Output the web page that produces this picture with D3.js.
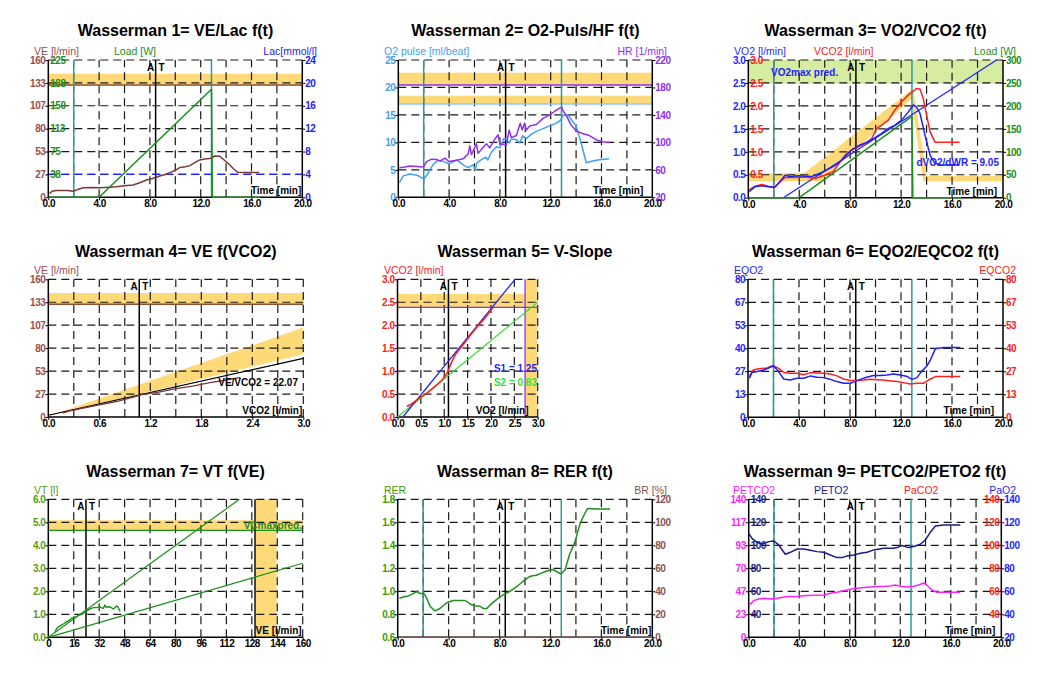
<!DOCTYPE html>
<html><head><meta charset="utf-8">
<script src="https://cdn.jsdelivr.net/npm/d3@7"></script>
<style>body{margin:0;background:#fff;} svg{display:block;font-family:"Liberation Sans",Arial,sans-serif;}</style>
</head><body><script>
// ---------------- DATA ----------------
const timeTicks = [0,4,8,12,16,20];
const atTime = 8.45, startLine = 2.0, endLine = 12.85;

// Panel 1
const veT = [0.1,0.3,0.6,1.0,1.5,1.97,2.3,2.75,3.5,4.06,4.8,5.37,6.0,6.68,7.2,7.73,8.2,8.78,9.2,9.57,10.0,10.35,10.8,11.14,11.5,11.92,12.3,12.7,12.9,13.1,13.5,13.8,14.3,14.6,14.9,15.6,16.6];
const veV = [4.3,7,8,8,7.8,7,9,11.2,11.5,11.2,11.8,12.4,13.5,14.4,17,20.2,22,24.9,26.5,28.7,31.5,34.6,35.5,36.9,40,43.6,44.5,45.1,46,48.2,47.9,44,37.7,33,29.2,29,29];
const loadT = [0,4.0,12.85,12.92,16.7];
const loadW = [0,0,177,0,0];
const veMaxBand = [131,144];
const lacLine = 4;

// Panel 2
const hrT = [0.08,0.5,0.92,1.5,1.84,2.0,2.23,2.62,3.0,3.3,3.67,4.0,4.6,5.1,5.5,5.63,5.76,6.15,6.28,6.55,6.94,7.2,7.6,7.86,7.99,8.38,8.5,8.73,8.9,9.3,9.6,9.76,9.95,10.08,10.35,10.87,11.4,11.92,12.3,12.7,12.86,12.97,13.2,13.6,14.0,14.5,15.05,15.6,16.1,16.6];
const hrV = [63.2,64,65.5,65,64,65,72,75.5,75,73,77,72,74,76,83,95,82,98,84,90,98,92,104.7,111,98,97,96,118,107,110,128,118,128,118,124,126,135,140,145,150,151.4,146,140,125.5,116.8,113,110,103.6,101,100];
const o2pT = [0.08,0.4,0.92,1.5,2.0,2.33,2.72,3.1,3.6,4.0,4.6,5.2,5.5,5.9,6.06,6.2,6.64,6.9,7.05,7.35,7.74,8.0,8.3,8.5,8.73,8.9,9.3,9.56,9.8,10.1,10.48,10.87,11.4,11.92,12.45,12.76,13.0,13.4,13.6,14.0,14.4,14.8,15.3,15.7,16.6];
const o2pV = [2.67,3.9,4.25,4.0,3.34,4.3,5.9,6.7,6.5,6.1,6.8,5.77,5.4,5.9,5.0,6.3,7.0,7.3,6.8,8.3,9.2,9.0,10.7,10.6,9.9,10.6,10.5,9.9,11.2,10.7,11.5,12,12.5,13.0,13.5,14.0,15.0,14.9,14.2,13,9.85,6.3,6.6,6.8,7.0];
const hrMaxBand = [183.5,201.5];
const o2pMaxBand = [17.0,18.5];

// Panel 3
const vco2T = [0.07,0.53,1.05,1.57,2.04,2.36,2.88,3.67,4.45,5.24,6.0,6.68,7.2,7.6,8.1,8.64,9.16,9.69,10.08,10.47,11.0,11.52,12.04,12.57,12.96,13.2,13.48,13.74,14.0,14.27,14.66,15.18,16.6];
const vco2V = [0.17,0.25,0.29,0.25,0.22,0.31,0.44,0.44,0.45,0.42,0.49,0.57,0.78,0.93,1.04,1.11,1.18,1.29,1.51,1.58,1.69,1.91,2.09,2.24,2.32,2.38,2.37,2.16,1.80,1.44,1.21,1.21,1.21];
const vo2T = [0.07,0.53,1.05,1.57,2.04,2.49,2.88,3.27,3.93,4.97,5.76,6.4,7.07,7.6,8.1,8.77,9.43,9.95,10.47,11.0,11.52,12.04,12.57,12.96,13.2,13.48,13.87,14.27,14.66,15.18,16.5];
const vo2V = [0.13,0.24,0.26,0.24,0.22,0.35,0.49,0.46,0.48,0.46,0.55,0.64,0.75,0.89,1.04,1.15,1.22,1.31,1.40,1.51,1.58,1.69,1.87,2.02,1.98,1.84,1.37,0.93,0.75,0.71,0.71];
const vo2PredT = [2.75,19.5];
const vo2PredV = [0,3.0];
const vo2BandT = [0,4.4,12.95,14.0,20,20,13.75,12.8,5.7,0];
const vo2BandV = [0.53,0.54,2.38,0.48,0.48,0.36,0.36,2.15,0.36,0.36];
const vo2MaxBand = [2.48,3.0];

// Panel 4
const p4VCO2 = [0.17,0.25,0.3,0.44,0.5,0.6,0.8,1.0,1.1,1.3,1.5,1.7,1.9,2.1,2.26];
const p4VE = [4.5,7,8,11,12,14,18,23,26,29,33,36,40,43,46];
const p4RegX = [0,3];
const p4RegY = [2,68.2];
const p4WedgeX = [0,3,3,0];
const p4WedgeY = [1,104,73,1];
const p4AT = 1.07;

// Panel 5
const vsVO2 = [0.2,0.31,0.45,0.63,0.8,0.95,1.05,1.1,1.15,1.25,1.4,1.55,1.7,1.85,1.95,2.03];
const vsVCO2 = [0.23,0.29,0.4,0.52,0.66,0.8,0.93,1.05,1.18,1.38,1.57,1.77,1.96,2.13,2.26,2.37];
const s1X = [0.115,2.515], s1Y = [0,3];
const s2X = [0,3], s2Y = [0,2.5];
const vcoMaxBand = [2.39,2.68];
const voMaxBand = [2.73,3.0];
const p5AT = 1.09;

// Panel 6
const eqo2T = [0.1,0.31,0.71,1.23,1.75,2.0,2.4,2.8,3.3,3.84,4.37,4.9,5.4,5.93,6.45,6.98,7.5,8.0,8.4,8.8,9.3,9.86,10.4,10.9,11.4,11.95,12.5,12.86,13.25,13.6,14.0,14.3,14.7,15.35,16.65];
const eqo2V = [22.6,25.9,26.5,27.4,29,29.8,26.5,22.2,21.6,22.6,22.6,24.0,23.2,23,22,20.7,19.7,19.7,20.7,22,23.2,24.2,24.2,24.5,25.1,24.5,23.6,22,23,26.5,29.4,33.2,39.8,40.4,40.4];
const eqco2T = [0.1,0.4,0.84,1.5,1.96,2.4,2.8,3.3,3.84,4.37,4.9,5.4,5.93,6.45,6.98,7.5,8.0,8.55,9.07,9.6,10.1,10.6,11.2,11.7,12.2,12.7,13.25,13.75,14.15,14.7,15.35,16.65];
const eqco2V = [23.6,27.4,28.2,28.6,30.1,28.4,26,25.5,25.5,24.7,25.9,25.7,25.5,25.1,24,22.2,21.3,21.3,21.6,22,21.8,21.6,21.1,20.7,20.1,19.3,19.7,19.7,21.6,23.6,23.6,23.6];

// Panel 7
const vtVE = [4.2,5.5,6.3,7.5,8.4,10,11.5,13,14.7,16,17.8,19.5,21,22.5,23.7,25,26.2,27.2,28.3,30.4,32.5,33.5,34.6,35.6,36.5,37.5,38.8,40.9,42,43,44,45.1];
const vtV = [0.25,0.4,0.46,0.5,0.54,0.6,0.68,0.72,0.83,0.85,0.9,0.97,1.0,1.07,1.12,1.18,1.23,1.26,1.29,1.29,1.33,1.28,1.26,1.4,1.3,1.32,1.33,1.23,1.3,1.36,1.3,1.12];
const vtLine1X = [0,120.2], vtLine1Y = [0,6.0];
const vtLine2X = [0,160], vtLine2Y = [0,3.22];
const vcMaxBand = [4.65,5.09];
const veMaxBandX = [130,143.6];
const p7AT = 23.7;

// Panel 8
const rerT = [0.13,0.45,0.84,1.23,1.49,1.75,2.07,2.28,2.54,2.93,3.32,3.85,4.37,4.9,5.29,5.68,6.07,6.47,6.73,7.0,7.25,7.78,8.3,8.82,9.35,9.87,10.4,10.9,11.44,11.96,12.2,12.5,12.83,13.14,13.5,13.93,14.3,14.58,14.9,15.6,16.68];
const rerV = [0.94,0.95,0.96,0.98,1.0,0.98,0.98,0.94,0.87,0.83,0.85,0.90,0.92,0.92,0.92,0.89,0.875,0.87,0.85,0.85,0.88,0.93,0.97,1.0,1.04,1.09,1.13,1.14,1.165,1.185,1.19,1.17,1.15,1.185,1.32,1.43,1.58,1.65,1.72,1.715,1.715];
const brT = [0,20], brV = [0,0];

// Panel 9
const peto2T = [0,0.26,0.66,1.06,1.58,1.98,2.37,2.9,3.3,3.83,4.35,4.88,5.4,5.94,6.46,6.99,7.39,7.78,8.31,8.84,9.37,9.9,10.7,11.48,11.74,12.14,12.66,13.06,13.59,13.98,14.38,14.78,15.44,16.75];
const peto2V = [110.4,106,102.6,100.9,103.2,103.8,100.3,92.2,93.9,96.8,96.8,95.7,94.5,93.9,91.6,89.3,89.3,90.7,91.6,93,93.9,96,97.4,97.4,98,99.8,98,99,100.9,104.6,111.3,116.8,117.7,117.7];
const petco2T = [0.05,0.4,0.8,1.19,1.98,2.5,3.03,3.83,4.6,5.4,5.94,6.46,6.99,7.52,8.05,8.58,9.1,9.9,10.7,11.2,11.6,12.0,12.53,13.06,13.46,13.85,14.1,14.5,14.9,16.75];
const petco2V = [32.8,37.2,38.9,39.6,38.9,40.2,41.3,41.3,42.3,42.6,42.9,44.6,45.7,47.3,48.7,49.7,50.4,51.4,51.7,52.1,53.1,51.8,51.1,51.7,53.1,55.1,53.1,48,45.7,45.7];

// ---------------- RENDER ----------------
const TICK_FAMILY = '"Liberation Sans", Arial, sans-serif';
const TICK_LS = '-0.5px';

const C = {
  veLab:'#9a4c4c', veLine:'#7a3838', veMax:'#8a4f2c', teal:'#2a9a9a', yellow:'#fdd977', lgreen:'#d6eca0',
  green:'#1a8f1a', lac:'#2020ff', o2p:'#3fa0f5', hr:'#9030f0', vo2:'#1f1fff', vco2:'#ff2020',
  s2:'#33e033', olive:'#5a9c0e', rerLab:'#3c9c00', rerLine:'#1f8f1f', br:'#8a5050',
  mag:'#ff22ff', navy:'#1c1c85', grid:'#1a1a1a'
};

const svg = d3.select('body').append('svg').attr('width',1047).attr('height',679);
svg.append('rect').attr('width',1047).attr('height',679).attr('fill','#fff');

function mkPanel(L,R,T,B,xd,yd){
  const g = svg.append('g');
  return {g,L,R,T,B,xd,yd,x:d3.scaleLinear().domain(xd).range([L,R]),y:d3.scaleLinear().domain(yd).range([B,T])};
}
function hband(p,v,color,ys){ ys=ys||p.y; p.g.append('rect').attr('x',p.L).attr('width',p.R-p.L).attr('y',ys(v[1])).attr('height',ys(v[0])-ys(v[1])).attr('fill',color||C.yellow); }
function vband(p,v,color){ p.g.append('rect').attr('x',p.x(v[0])).attr('width',p.x(v[1])-p.x(v[0])).attr('y',p.T).attr('height',p.B-p.T).attr('fill',color||C.yellow); }
function poly(p,xs,ys,color){ p.g.append('path').attr('d',d3.line().x(d=>p.x(d[0])).y(d=>p.y(d[1]))(d3.zip(xs,ys))+'Z').attr('fill',color||C.yellow); }
function grid(p,nx,ny,rightAxis){
  const gg=p.g.append('g').attr('stroke',C.grid).attr('stroke-width',1.2).attr('stroke-dasharray','8,5');
  for(let i=1;i<=nx;i++){ if(i===nx && rightAxis) continue; const v=p.xd[0]+i*(p.xd[1]-p.xd[0])/nx; const X=p.x(v);
    gg.append('line').attr('x1',X).attr('x2',X).attr('y1',p.B).attr('y2',p.T); }
  for(let i=1;i<=ny;i++){ const v=p.yd[0]+i*(p.yd[1]-p.yd[0])/ny; const Y=p.y(v);
    gg.append('line').attr('x1',p.L).attr('x2',p.R).attr('y1',Y).attr('y2',Y); }
}
function axesLines(p,rightAxis){
  const a=p.g.append('g').attr('stroke','#000').attr('stroke-width',1.5);
  a.append('line').attr('x1',p.L).attr('x2',p.L).attr('y1',p.T).attr('y2',p.B);
  a.append('line').attr('x1',p.L).attr('x2',p.R).attr('y1',p.B).attr('y2',p.B);
  if(rightAxis) a.append('line').attr('x1',p.R).attr('x2',p.R).attr('y1',p.T).attr('y2',p.B);
}
function vline(p,v,color,w){ const X=p.x(v); p.g.append('line').attr('x1',X).attr('x2',X).attr('y1',p.T).attr('y2',p.B).attr('stroke',color).attr('stroke-width',w||1.5); }
function hline(p,v,color,ys,w,dash){ ys=ys||p.y; const Y=ys(v); const l=p.g.append('line').attr('x1',p.L).attr('x2',p.R).attr('y1',Y).attr('y2',Y).attr('stroke',color).attr('stroke-width',w||1.5); if(dash) l.attr('stroke-dasharray',dash); }
function series(p,xs,ys,color,yScale,w){ yScale=yScale||p.y;
  p.g.append('path').datum(d3.zip(xs,ys)).attr('d',d3.line().x(d=>p.x(d[0])).y(d=>yScale(d[1]))).attr('fill','none').attr('stroke',color).attr('stroke-width',w||1.5).attr('stroke-linejoin','round'); }
function styleAxis(g,color){
  g.select('.domain').remove();
  g.attr('font-family',TICK_FAMILY).attr('font-size',10).attr('font-weight','bold');
  g.selectAll('text').attr('fill',color).style('letter-spacing',TICK_LS);
  g.selectAll('line').attr('stroke','#000').attr('stroke-width',1);
}
function yAxis(p,side,scale,vals,fmt,color,pos,inside){
  const ax=(side==='left'?d3.axisLeft(scale):d3.axisRight(scale)).tickValues(vals).tickFormat(fmt).tickSizeOuter(0).tickSizeInner(inside?0:3).tickPadding(inside?2:0);
  const g=p.g.append('g').attr('transform','translate('+pos+',0)').call(ax);
  styleAxis(g,color);
}
function xAxis(p,vals,fmt){
  const ax=d3.axisBottom(p.x).tickValues(vals).tickFormat(fmt).tickSizeOuter(0).tickSizeInner(3).tickPadding(0);
  const g=p.g.append('g').attr('transform','translate(0,'+p.B+')').call(ax);
  styleAxis(g,'#000');
}
function text(x,y,s,o){ o=o||{};
  return svg.append('text').attr('x',x).attr('y',y).text(s).attr('fill',o.color||'#000').attr('font-size',o.size||10.5)
    .attr('font-weight',o.weight||'normal').attr('text-anchor',o.anchor||'start'); }
function title(cx,y,s){ text(cx,y,s,{size:16,weight:'bold',anchor:'middle'}); }
function atLabel(p,v){ const X=p.x(v); text(X-1.5,p.T+10.5,'A',{size:10,weight:'bold',anchor:'end'}); text(X+3,p.T+10.5,'T',{size:10,weight:'bold'}); }
function cornerLabel(p,s,xEnd){ text(xEnd||p.R-1,p.B-3,s,{size:10,weight:'bold',anchor:'end'}); }
const steps=(a,b,n)=>d3.range(n+1).map(i=>a+i*(b-a)/n);
const fRound=d=>String(Math.round(d)), f1=d3.format('.1f');

// ---------- Panel 1 ----------
{
  const p=mkPanel(48.3,302.3,60,197.3,[0,20],[0,160]);
  const load=d3.scaleLinear().domain([0,225]).range([p.B,p.T]);
  const lac=d3.scaleLinear().domain([0,24]).range([p.B,p.T]);
  hband(p,veMaxBand);
  grid(p,10,6,true);
  hline(p,veMaxBand[0],C.veMax);
  vline(p,startLine,C.teal); vline(p,endLine,C.teal); vline(p,atTime,'#000');
  axesLines(p,true);
  hline(p,lacLine,C.lac,lac,1.2,'8,5');
  series(p,veT,veV,C.veLine);
  series(p,loadT,loadW,C.green,load);
  yAxis(p,'left',p.y,steps(0,160,6),fRound,C.veLab,p.L);
  yAxis(p,'right',load,steps(0,225,6).slice(1),fRound,C.green,p.L,true);
  yAxis(p,'right',lac,steps(0,24,6),fRound,C.lac,p.R);
  xAxis(p,timeTicks,f1);
  atLabel(p,atTime); cornerLabel(p,'Time [min]');
  title(175.5,36,'Wasserman 1= VE/Lac f(t)');
  text(34,55,'VE [l/min]',{color:C.veLab}); text(114,55,'Load [W]',{color:C.green}); text(317,55,'Lac[mmol/l]',{color:C.lac,anchor:'end'});
}
// ---------- Panel 2 ----------
{
  const p=mkPanel(398.3,652.3,60,197.3,[0,20],[0,25]);
  const hr=d3.scaleLinear().domain([20,220]).range([p.B,p.T]);
  hband(p,hrMaxBand,C.yellow,hr); hband(p,o2pMaxBand);
  grid(p,10,5,true);
  hline(p,hrMaxBand[0],C.hr,hr); hline(p,o2pMaxBand[0],'#8cc4f5');
  vline(p,startLine,C.teal); vline(p,endLine,C.teal); vline(p,atTime,'#000');
  axesLines(p,true);
  series(p,o2pT,o2pV,C.o2p);
  series(p,hrT,hrV,C.hr,hr);
  yAxis(p,'left',p.y,steps(0,25,5),fRound,C.o2p,p.L);
  yAxis(p,'right',hr,steps(20,220,5),fRound,C.hr,p.R);
  xAxis(p,timeTicks,f1);
  atLabel(p,atTime); cornerLabel(p,'Time [min]',p.R-9);
  title(525.5,36,'Wasserman 2= O2-Puls/HF f(t)');
  text(384,55,'O2 pulse [ml/beat]',{color:C.o2p}); text(667,55,'HR [1/min]',{color:C.hr,anchor:'end'});
}
// ---------- Panel 3 ----------
{
  const p=mkPanel(748.3,1003,60,197.7,[0,20],[0,3]);
  const load=d3.scaleLinear().domain([0,300]).range([p.B,p.T]);
  hband(p,vo2MaxBand,C.lgreen);
  poly(p,vo2BandT,vo2BandV,C.yellow);
  grid(p,10,6,true);
  vline(p,startLine,C.teal); vline(p,endLine,C.teal); vline(p,atTime,'#000');
  axesLines(p,true);
  series(p,vo2PredT,vo2PredV,C.vo2,p.y,1.2);
  series(p,loadT,loadW,C.green,load);
  series(p,vco2T,vco2V,C.vco2);
  series(p,vo2T,vo2V,C.vo2);
  yAxis(p,'left',p.y,steps(0,3,6),f1,C.vo2,p.L);
  yAxis(p,'right',p.y,steps(0,3,6).slice(1),f1,C.vco2,p.L,true);
  yAxis(p,'right',load,steps(0,300,6),fRound,C.green,p.R);
  xAxis(p,timeTicks,f1);
  atLabel(p,atTime); cornerLabel(p,'Time [min]',p.R-6);
  text(771,76,'VO2max pred.',{color:C.vo2,size:10,weight:'bold'});
  text(999,166,'dVO2/dWR = 9.05',{color:C.vo2,size:10,weight:'bold',anchor:'end'});
  title(875.5,36,'Wasserman 3= VO2/VCO2 f(t)');
  text(734,55,'VO2 [l/min]',{color:C.vo2}); text(814,55,'VCO2 [l/min]',{color:C.vco2}); text(1016,55,'Load [W]',{color:C.green,anchor:'end'});
}
// ---------- Panel 4 ----------
{
  const p=mkPanel(48.3,303.3,279.3,417,[0,3],[0,160]);
  hband(p,veMaxBand);
  poly(p,p4WedgeX,p4WedgeY,C.yellow);
  grid(p,10,6,false);
  hline(p,veMaxBand[0],C.veMax);
  vline(p,p4AT,'#000');
  axesLines(p,false);
  series(p,p4RegX,p4RegY,'#000',p.y,1.2);
  series(p,p4VCO2,p4VE,C.veLine,p.y,1.3);
  yAxis(p,'left',p.y,steps(0,160,6),fRound,C.veLab,p.L);
  xAxis(p,[0,0.6,1.2,1.8,2.4,3.0],f1);
  atLabel(p,p4AT); cornerLabel(p,'VCO2 [l/min]');
  text(298,386,'VE/VCO2 = 22.07',{size:10,weight:'bold',anchor:'end'});
  title(175.8,257,'Wasserman 4= VE f(VCO2)');
  text(34,274,'VE [l/min]',{color:C.veLab});
}
// ---------- Panel 5 ----------
{
  const p=mkPanel(397.5,537.7,279.3,417,[0,3],[0,3]);
  hband(p,vcoMaxBand); vband(p,voMaxBand);
  grid(p,6,6,false);
  hline(p,vcoMaxBand[0],C.hr,p.y,1.3); vline(p,voMaxBand[0],C.hr,1.3);
  vline(p,p5AT,'#000');
  axesLines(p,false);
  series(p,s2X,s2Y,C.s2,p.y,1.2);
  series(p,s1X,s1Y,C.vo2,p.y,1.2);
  series(p,vsVO2,vsVCO2,C.vco2,p.y,1.6);
  yAxis(p,'left',p.y,steps(0,3,6),f1,C.vco2,p.L);
  xAxis(p,steps(0,3,6),f1);
  atLabel(p,p5AT); cornerLabel(p,'VO2 [l/min]',528.5);
  text(537,372,'S1 = 1.25',{color:C.vo2,size:10,weight:'bold',anchor:'end'});
  text(537,386,'S2 = 0.83',{color:C.s2,size:10,weight:'bold',anchor:'end'});
  title(525,257,'Wasserman 5= V-Slope');
  text(384,274,'VCO2 [l/min]',{color:C.vco2});
}
// ---------- Panel 6 ----------
{
  const p=mkPanel(748,1003,279.3,417.3,[0,20],[0,80]);
  grid(p,10,6,true);
  vline(p,startLine,C.teal); vline(p,endLine,C.teal); vline(p,atTime,'#000');
  axesLines(p,true);
  series(p,eqco2T,eqco2V,C.vco2);
  series(p,eqo2T,eqo2V,C.vo2);
  yAxis(p,'left',p.y,steps(0,80,6),fRound,C.vo2,p.L);
  yAxis(p,'right',p.y,steps(0,80,6),fRound,C.vco2,p.R);
  xAxis(p,timeTicks,f1);
  atLabel(p,atTime); cornerLabel(p,'Time [min]',p.R-9);
  title(875.5,257,'Wasserman 6= EQO2/EQCO2 f(t)');
  text(734,274,'EQO2',{color:C.vo2}); text(1016,274,'EQCO2',{color:C.vco2,anchor:'end'});
}
// ---------- Panel 7 ----------
{
  const p=mkPanel(48.3,302.7,499.3,637.3,[0,160],[0,6]);
  hband(p,vcMaxBand); vband(p,veMaxBandX);
  grid(p,10,6,false);
  hline(p,vcMaxBand[0],C.green,p.y,1.4);
  vline(p,veMaxBandX[0],'#000',1.4);
  vline(p,p7AT,'#000');
  axesLines(p,false);
  series(p,vtLine1X,vtLine1Y,C.green,p.y,1.2);
  series(p,vtLine2X,vtLine2Y,C.green,p.y,1.2);
  series(p,vtVE,vtV,C.green,p.y,1.4);
  yAxis(p,'left',p.y,steps(0,6,6),f1,C.olive,p.L);
  xAxis(p,steps(0,160,10),d3.format('d'));
  atLabel(p,p7AT); cornerLabel(p,'VE [l/min]');
  text(302,529,'VCmaxpred.',{color:C.green,size:10,weight:'bold',anchor:'end'});
  title(175.5,477,'Wasserman 7= VT f(VE)');
  text(34,494,'VT [l]',{color:C.olive});
}
// ---------- Panel 8 ----------
{
  const p=mkPanel(397.7,652.3,499.3,637.3,[0,20],[0.6,1.8]);
  const br=d3.scaleLinear().domain([0,120]).range([p.B,p.T]);
  grid(p,10,6,true);
  vline(p,startLine,C.teal); vline(p,endLine,C.teal); vline(p,atTime,'#000');
  axesLines(p,true);
  series(p,brT,brV,C.br,br,1.5);
  series(p,rerT,rerV,C.rerLine);
  yAxis(p,'left',p.y,steps(0.6,1.8,6),f1,C.rerLab,p.L);
  yAxis(p,'right',br,steps(0,120,6),fRound,C.br,p.R);
  xAxis(p,timeTicks,f1);
  atLabel(p,atTime); cornerLabel(p,'Time [min]');
  title(525,477,'Wasserman 8= RER f(t)');
  text(384,494,'RER',{color:C.rerLab}); text(667,494,'BR [%]',{color:C.br,anchor:'end'});
}
// ---------- Panel 9 ----------
{
  const p=mkPanel(748.7,1001.3,499.3,637.3,[0,20],[0,140]);
  const po2=d3.scaleLinear().domain([20,140]).range([p.B,p.T]);
  grid(p,10,6,true);
  vline(p,startLine,C.teal); vline(p,endLine,C.teal); vline(p,atTime,'#000');
  axesLines(p,true);
  series(p,petco2T,petco2V,C.mag);
  series(p,peto2T,peto2V,C.navy,po2);
  yAxis(p,'left',p.y,steps(0,140,6),fRound,C.mag,p.L);
  yAxis(p,'right',po2,steps(20,140,6).slice(1),fRound,C.navy,p.L,true);
  yAxis(p,'left',po2,steps(20,140,6).slice(1),fRound,C.vco2,p.R,true);
  yAxis(p,'right',po2,steps(20,140,6),fRound,C.vo2,p.R);
  xAxis(p,timeTicks,f1);
  atLabel(p,atTime); cornerLabel(p,'Time [min]',p.R-6);
  title(875,477,'Wasserman 9= PETCO2/PETO2 f(t)');
  text(733,494,'PETCO2',{color:C.mag}); text(814,494,'PETO2',{color:C.navy});
  text(904,494,'PaCO2',{color:C.vco2}); text(1016,494,'PaO2',{color:C.vo2,anchor:'end'});
}
</script></body></html>
